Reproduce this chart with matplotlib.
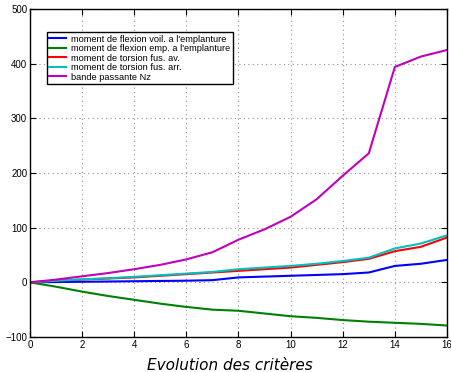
import matplotlib
matplotlib.use("Agg")
import matplotlib.pyplot as plt
import numpy as np

x = list(range(17))
flex_voil = [0, 0.5, 1, 1.5, 2, 2.5, 3, 4, 9, 10.5, 12, 13.5, 15, 18, 30, 34, 41]
flex_emp = [0, -8, -17, -25, -32, -39, -45, -50, -52, -57, -62, -65, -69, -72, -74, -76, -79]
tors_av = [0, 3, 5, 7, 9, 12, 15, 18, 21, 24, 27, 32, 37, 43, 57, 65, 82]
tors_arr = [0, 3, 5.5, 7.5, 10, 13, 16, 19, 24, 27, 30, 34, 39, 45, 62, 71, 86]
nz = [0, 5, 11, 17, 24, 32, 42, 55, 78, 97, 120, 152, 195, 236, 394, 413, 425]

labels = ["moment de flexion voil. a l'emplanture",
          "moment de flexion emp. a l'emplanture",
          "moment de torsion fus. av.",
          "moment de torsion fus. arr.",
          "bande passante Nz"]
colors = ["#0000ff", "#008000", "#ff0000", "#00bfbf", "#bf00bf"]
xticks = [0, 2, 4, 6, 8, 10, 12, 14, 16]
yticks = [-100, 0, 100, 200, 300, 400, 500]

plt.rcParams["font.family"] = ["Liberation Sans", "DejaVu Sans"]

fig = plt.figure(figsize=(4.52, 3.72), dpi=100)
ax = fig.add_axes([30/452, 1-337/372, 417/452, 328/372])
for s, lab, c in zip([flex_voil, flex_emp, tors_av, tors_arr, nz], labels, colors):
    ax.plot(x, s, color=c, lw=1.5, label=lab)
ax.set_xlim(0, 16)
ax.set_ylim(-100, 500)
ax.set_xticks(xticks)
ax.set_yticks(yticks)
ax.tick_params(direction="in", top=True, right=True, labelsize=7, length=4, pad=2)
ax.grid(True, linestyle=(0, (1, 3)), color="#909090", lw=0.8)
for sp in ax.spines.values():
    sp.set_linewidth(1.0)
leg = ax.legend(loc="upper left", bbox_to_anchor=(0.04, 0.93), fontsize=6.7,
                fancybox=False, framealpha=1, edgecolor="black", borderpad=0.3,
                labelspacing=0.05, handlelength=1.8, handletextpad=0.5, borderaxespad=0)
leg.get_frame().set_linewidth(1.0)
fig.text(230/452, 1-365/372, "Evolution des critères", fontsize=11, style="italic",
         ha="center", va="center", family="DejaVu Sans")
fig.savefig("out.png", dpi=100)
